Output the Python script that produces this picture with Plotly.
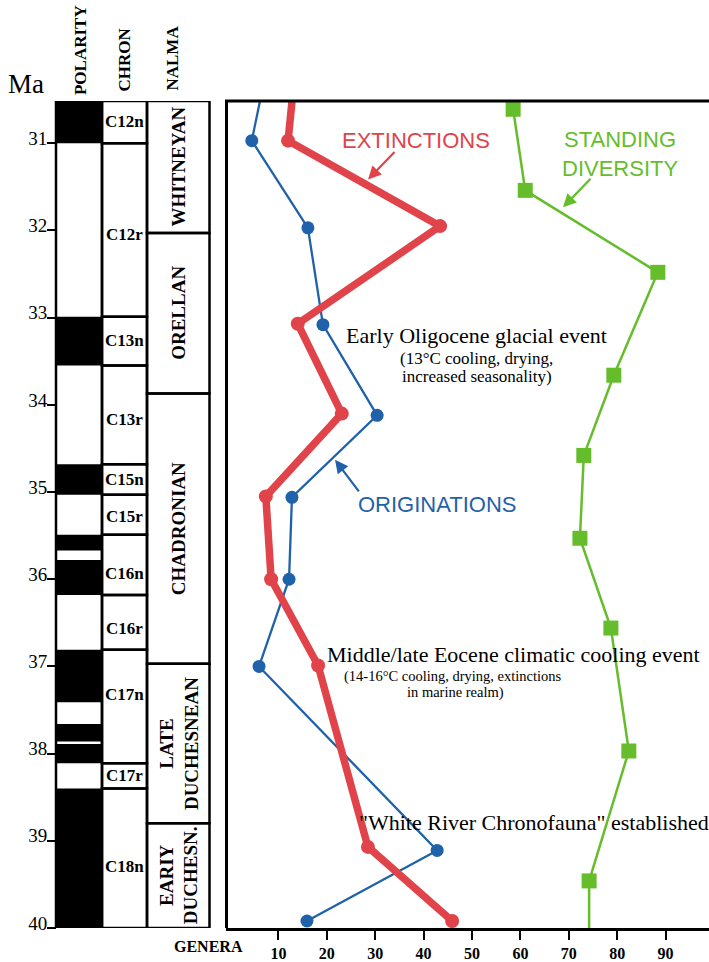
import plotly.graph_objects as go

# ---------------- data ----------------
ma_ticks = [31, 32, 33, 34, 35, 36, 37, 38, 39, 40]
genera_ticks = [10, 20, 30, 40, 50, 60, 70, 80, 90]

orig_ma = [30.3, 30.97, 31.97, 33.08, 34.12, 35.06, 36.0, 37.0, 39.11, 39.92]
orig_val = [7.0, 4.5, 16.1, 19.2, 30.4, 12.8, 12.2, 6.0, 42.8, 15.9]

ext_ma = [30.3, 30.97, 31.95, 33.07, 34.1, 35.05, 36.0, 36.99, 39.07, 39.92]
ext_val = [13.2, 12.0, 43.4, 14.0, 23.1, 7.4, 8.5, 18.2, 28.5, 45.9]

div_ma = [30.61, 31.54, 32.48, 33.66, 34.58, 35.53, 36.56, 37.97, 39.46, 40.3]
div_val = [58.5, 61.0, 88.4, 79.3, 73.1, 72.3, 78.7, 82.4, 74.2, 74.2]

# polarity: normal (black) intervals, Ma
normal_top = [30.515, 32.99, 34.68, 35.49, 35.78, 36.81, 37.66, 37.89, 38.40]
normal_bot = [31.00, 33.55, 35.03, 35.67, 36.18, 37.41, 37.86, 38.11, 40.00]

chron_names = ["C12n", "C12r", "C13n", "C13r", "C15n", "C15r", "C16n", "C16r", "C17n", "C17r", "C18n"]
chron_top = [30.515, 31.00, 32.99, 33.55, 34.68, 35.03, 35.49, 36.18, 36.81, 38.11, 38.40]
chron_bot = [31.00, 32.99, 33.55, 34.68, 35.03, 35.49, 36.18, 36.81, 38.11, 38.40, 40.00]
chron_label_ma = [30.755, 32.05, 33.26, 34.17, 34.86, 35.28, 35.93, 36.56, 37.32, 38.255, 39.30]

nalma_names = ["WHITNEYAN", "ORELLAN", "CHADRONIAN", "LATE<br>DUCHESNEAN", "EARIY<br>DUCHESN."]
nalma_top = [30.515, 32.03, 33.87, 36.97, 38.80]
nalma_bot = [32.03, 33.87, 36.97, 38.80, 40.00]

RED = "#e0444a"
BLUE = "#1f62a9"
GREEN = "#66bd2b"
SERIF = "Liberation Serif"
SANS = "Liberation Sans"

W, H = 709, 962
TOP, BOT = 101, 933


def px(x):
    return x / W


def py(y):
    return (BOT - y) / (BOT - TOP)


fig = go.Figure()

fig.add_trace(go.Scatter(x=orig_val, y=orig_ma, mode="lines+markers",
                         line=dict(color=BLUE, width=2.3),
                         marker=dict(color=BLUE, size=13, symbol="circle"),
                         name="Originations", showlegend=False))
fig.add_trace(go.Scatter(x=ext_val, y=ext_ma, mode="lines+markers",
                         line=dict(color=RED, width=7.5),
                         marker=dict(color=RED, size=14, symbol="circle"),
                         name="Extinctions", showlegend=False))
fig.add_trace(go.Scatter(x=div_val, y=div_ma, mode="lines+markers",
                         line=dict(color=GREEN, width=2.5),
                         marker=dict(color=GREEN, size=15, symbol="square"),
                         name="Standing diversity", showlegend=False))

shapes = []
LW = 2.5
x_pol0, x_pol1 = px(56), px(102)
x_chr0, x_chr1 = px(102), px(147)
x_nal0, x_nal1 = px(147), px(209.5)
for t, b in zip(normal_top, normal_bot):
    shapes.append(dict(type="rect", xref="paper", yref="y", x0=x_pol0, x1=x_pol1,
                       y0=t, y1=b, fillcolor="black", line=dict(width=0)))
shapes.append(dict(type="rect", xref="paper", yref="y", x0=x_pol0, x1=x_pol1,
                   y0=30.515, y1=40.0, line=dict(color="black", width=LW)))
for t, b in zip(chron_top, chron_bot):
    shapes.append(dict(type="rect", xref="paper", yref="y", x0=x_chr0, x1=x_chr1,
                       y0=t, y1=b, line=dict(color="black", width=LW)))
for t, b in zip(nalma_top, nalma_bot):
    shapes.append(dict(type="rect", xref="paper", yref="y", x0=x_nal0, x1=x_nal1,
                       y0=t, y1=b, line=dict(color="black", width=LW)))
# main box left & top
shapes.append(dict(type="line", xref="paper", yref="paper", x0=px(226.5), x1=px(226.5),
                   y0=0, y1=1, line=dict(color="black", width=3)))
shapes.append(dict(type="line", xref="paper", yref="paper", x0=px(225), x1=1.0,
                   y0=1, y1=1, line=dict(color="black", width=3)))

ann = []


def note(text, x, y, font, xanchor="center", yanchor="middle", **kw):
    d = dict(text=text, x=px(x), y=py(y), xref="paper", yref="paper",
             xanchor=xanchor, yanchor=yanchor, showarrow=False, font=font)
    d.update(kw)
    ann.append(d)


# headers
for txt, xc, yb in [("POLARITY", 80, 97), ("CHRON", 124.5, 94), ("NALMA", 173, 93)]:
    note("<b>%s</b>" % txt, xc, yb, dict(family=SERIF, size=17, color="black"),
         yanchor="bottom", textangle=-90)
note("Ma", 6, 101, dict(family=SERIF, size=27, color="black"), xanchor="left", yanchor="bottom")

# chron labels
for name, m in zip(chron_names, chron_label_ma):
    ann.append(dict(text="<b>%s</b>" % name, x=px(124.5), y=m, xref="paper", yref="y",
                    xanchor="center", yanchor="middle", showarrow=False,
                    font=dict(family=SERIF, size=17, color="black")))
# nalma labels
for name, t, b in zip(nalma_names, nalma_top, nalma_bot):
    ann.append(dict(text="<b>%s</b>" % name, x=px(178.5), y=(t + b) / 2, xref="paper", yref="y",
                    xanchor="center", yanchor="middle", showarrow=False, textangle=-90,
                    font=dict(family=SERIF, size=19, color="black")))
# genera label
note("<b>GENERA</b>", 208, 952, dict(family=SERIF, size=16, color="black"))

# series labels
note("EXTINCTIONS", 415.5, 141, dict(family=SANS, size=22, color=RED))
note("STANDING<br>DIVERSITY", 620, 154, dict(family=SANS, size=22, color=GREEN))
note("ORIGINATIONS", 437, 507, dict(family=SANS, size=22, color=BLUE))

# arrows
for hx, hy, tx, ty, col in [(368, 180, 396, 151, RED), (563, 208, 592, 178, GREEN),
                            (335, 462, 360, 495, BLUE)]:
    ann.append(dict(text="", x=px(hx), y=py(hy), xref="paper", yref="paper",
                    ax=tx - hx, ay=ty - hy, showarrow=True, arrowhead=2, arrowsize=1.2,
                    arrowwidth=2.2, arrowcolor=col))

# event notes
notes = [
    ("Early Oligocene glacial event", 476.5, 337, 22),
    ("(13°C cooling, drying,", 477, 360, 17),
    ("increased seasonality)", 477.5, 378, 17),
    ("Middle/late Eocene climatic cooling event", 513, 658, 22),
    ("(14-16°C cooling, drying, extinctions", 453, 680, 14.5),
    ("in marine realm)", 455, 696, 14.5),
    ("\"White River Chronofauna\" established", 533.5, 827, 22),
]
for txt, xc, yc, sz in notes:
    note(txt, xc, yc, dict(family=SERIF, size=sz, color="black"))

x0_val = (226 - 230) / 4.84
x1_val = (709 - 230) / 4.84

fig.update_layout(
    width=W, height=H,
    margin=dict(l=0, r=0, t=TOP, b=H - BOT),
    paper_bgcolor="white", plot_bgcolor="white",
    shapes=shapes, annotations=ann,
    xaxis=dict(domain=[px(226), 1.0], range=[x0_val, x1_val], showgrid=False, zeroline=False,
               showline=True, linecolor="black", linewidth=3, ticks="outside", ticklen=9,
               tickwidth=2, tickcolor="black", tickvals=genera_ticks,
               ticktext=["<b>%d</b>" % v for v in genera_ticks],
               tickfont=dict(family=SERIF, size=16, color="black")),
    yaxis=dict(anchor="free", position=px(56), range=[40.0, 30.515], showgrid=False,
               zeroline=False, showline=False, ticks="outside", ticklen=9, tickwidth=2,
               tickcolor="black", tickvals=ma_ticks, ticklabelstandoff=-4,
               ticklabelshift=5,
               tickfont=dict(family=SERIF, size=19, color="black")),
)

fig.write_html("out.html", post_script="document.body.style.margin='0';",
               config={"displayModeBar": False})
